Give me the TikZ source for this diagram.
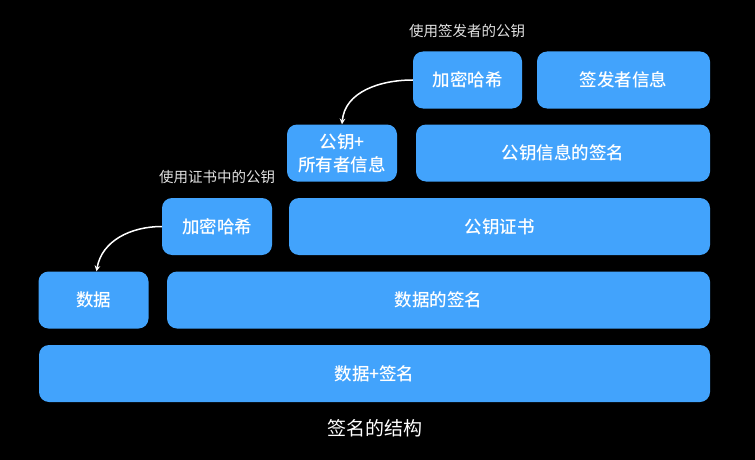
\documentclass[tikz,border=0pt]{standalone}
\usepackage{fontspec}
\setmainfont{Noto Sans CJK SC}[BoldFont={Noto Sans CJK SC Medium}]
\usetikzlibrary{positioning,arrows.meta}
\definecolor{boxblue}{RGB}{66,163,252}
\definecolor{notegray}{RGB}{225,225,225}
\tikzset{%
  blk/.style={fill=boxblue, rounded corners=10pt, inner sep=0pt, minimum height=57pt,
    text=white, font=\fontsize{17.5}{23}\selectfont\bfseries, align=center},
  note/.style={text=notegray, font=\fontsize{14.5}{18}\selectfont},
  every edge/.style={%
    draw, ->, >=stealth, white, line width=1.5pt
  }
}
\begin{document}
\begin{tikzpicture}[x=1pt, y=-1pt]
    \useasboundingbox[fill=black] (0,0) rectangle (755,460);

    % top row
    \node[blk, minimum width=109pt] (hashA) at (467.5,80) {加密哈希};
    \node[blk, minimum width=173pt] (issuer) at (623.5,80) {签发者信息};
    \node[note] (noteA) at (467,31) {使用签发者的公钥};

    \node[blk, minimum width=110pt] (pk) at (342,153) {公钥+\\所有者信息};
    \node[blk, minimum width=294pt] (pksig) at (563,153) {公钥信息的签名};

    \node[blk, minimum width=110pt] (hashB) at (217,226.5) {加密哈希};
    \node[blk, minimum width=421pt] (cert) at (499.5,226.5) {公钥证书};
    \node[note] (noteB) at (217,177) {使用证书中的公钥};

    \node[blk, minimum width=110pt] (data) at (93.5,300) {数据};
    \node[blk, minimum width=543pt] (datasig) at (438.5,300) {数据的签名};

    \node[blk, minimum width=671pt] (all) at (374.5,373.5) {数据+签名};
    \node[text=white, font=\fontsize{19}{22}\selectfont] (title) at (375,428) {签名的结构};

    \draw (hashA.west) edge[out=180, in=85] (pk.north);
    \draw (hashB.west) edge[out=180, in=80] ([xshift=3pt]data.north);
\end{tikzpicture}
\end{document}
